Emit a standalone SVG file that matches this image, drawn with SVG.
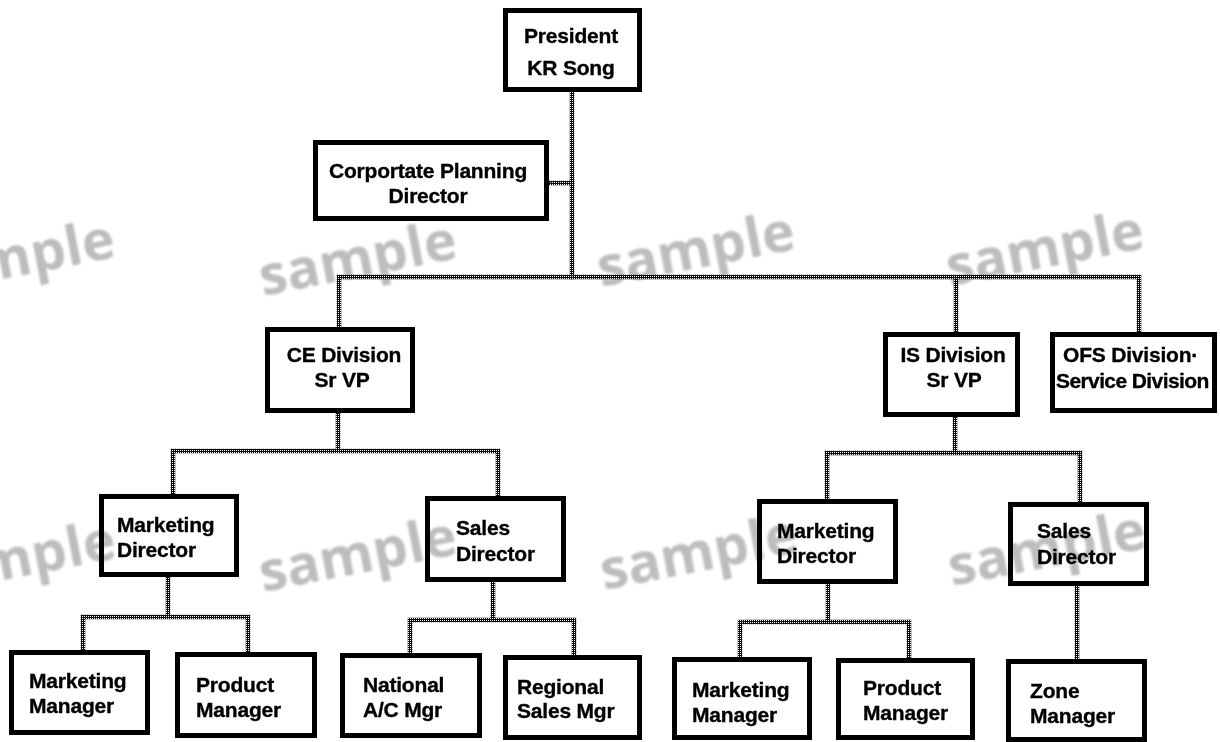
<svg xmlns="http://www.w3.org/2000/svg" xmlns:xlink="http://www.w3.org/1999/xlink" width="1220" height="742" viewBox="0 0 1220 742">
<style>
.box{fill:none;stroke:#000;stroke-width:5}
.t{font-family:"Liberation Sans",Arial,sans-serif;font-weight:bold;font-size:21px;fill:#000;stroke:#000;stroke-width:0.35;letter-spacing:-0.2px}
.c{text-anchor:middle}
.w{fill:none;stroke:url(#chk);stroke-width:4.5;stroke-linecap:square}
.wm{font-family:"Open Sans","DejaVu Sans",sans-serif;font-weight:bold;font-size:55px;fill:#bdbdbd}
</style>
<defs>
<pattern id="chk" width="2" height="2" patternUnits="userSpaceOnUse">
<rect width="2" height="2" fill="#0a0a0a"/>
<rect width="1" height="1" fill="#fff"/>
</pattern>
<filter id="soft" x="-10%" y="-30%" width="120%" height="160%"><feGaussianBlur stdDeviation="0.9"/></filter>
</defs>
<rect width="1220" height="742" fill="#fff"/>
<g id="watermarks" filter="url(#soft)">
<text class="wm" x="-79" y="295" textLength="200" lengthAdjust="spacingAndGlyphs" transform="rotate(-11 -79 295)">sample</text>
<text class="wm" x="263" y="296" textLength="200" lengthAdjust="spacingAndGlyphs" transform="rotate(-11 263 296)">sample</text>
<text class="wm" x="601" y="287" textLength="200" lengthAdjust="spacingAndGlyphs" transform="rotate(-11 601 287)">sample</text>
<text class="wm" x="950" y="286" textLength="200" lengthAdjust="spacingAndGlyphs" transform="rotate(-11 950 286)">sample</text>
<text class="wm" x="-78" y="596" textLength="200" lengthAdjust="spacingAndGlyphs" transform="rotate(-11 -78 596)">sample</text>
<text class="wm" x="263" y="592" textLength="200" lengthAdjust="spacingAndGlyphs" transform="rotate(-11 263 592)">sample</text>
<text class="wm" x="604" y="590" textLength="200" lengthAdjust="spacingAndGlyphs" transform="rotate(-11 604 590)">sample</text>
<text class="wm" x="952" y="586" textLength="200" lengthAdjust="spacingAndGlyphs" transform="rotate(-11 952 586)">sample</text>
</g>
<g id="connectors">
<path class="w" d="M572 92V277"/>
<path class="w" d="M549 183H572"/>
<path class="w" d="M339 327V277H1139V332M956 277V332"/>
<path class="w" d="M338 413V451M173 494V451H498V496"/>
<path class="w" d="M168 577V617M83 650V617H248V652"/>
<path class="w" d="M493 582V620M410 653V620H574V655"/>
<path class="w" d="M955 417V453M827 499V453H1080V502"/>
<path class="w" d="M828 584V622M740 657V622H909V658"/>
<path class="w" d="M1077 586V659"/>
</g>
<g id="president"><rect class="box" x="505.5" y="10.5" width="134" height="79"/><text class="t c" x="571" y="43">President</text><text class="t c" x="571" y="75">KR Song</text></g>
<g id="corp-planning"><rect class="box" x="315.5" y="142.5" width="231" height="76"/><text class="t c" x="428" y="178">Corportate Planning</text><text class="t c" x="428" y="203">Director</text></g>
<g id="ce-division"><rect class="box" x="267.5" y="329.5" width="145" height="81"/><text class="t c" x="344" y="362">CE Division</text><text class="t c" x="342" y="387">Sr VP</text></g>
<g id="is-division"><rect class="box" x="885.5" y="334.5" width="132" height="80"/><text class="t c" x="953" y="362">IS Division</text><text class="t c" x="954" y="387">Sr VP</text></g>
<g id="ofs-division"><rect class="box" x="1052.5" y="334.5" width="162" height="76"/><text class="t" x="1063" y="362">OFS Division·</text><text class="t" x="1056" y="388" style="letter-spacing:-0.6px">Service Division</text></g>
<g id="ce-marketing-director"><rect class="box" x="101.5" y="496.5" width="135" height="78"/><text class="t" x="117" y="532">Marketing</text><text class="t" x="117" y="557">Director</text></g>
<g id="ce-sales-director"><rect class="box" x="427.5" y="498.5" width="136" height="81"/><text class="t" x="456" y="535">Sales</text><text class="t" x="456" y="561">Director</text></g>
<g id="ce-marketing-manager"><rect class="box" x="11.5" y="652.5" width="136" height="80"/><text class="t" x="29" y="688">Marketing</text><text class="t" x="29" y="713">Manager</text></g>
<g id="ce-product-manager"><rect class="box" x="177.5" y="654.5" width="137" height="81"/><text class="t" x="196" y="692">Product</text><text class="t" x="196" y="717">Manager</text></g>
<g id="national-ac-mgr"><rect class="box" x="342.5" y="655.5" width="137" height="80"/><text class="t" x="363" y="692">National</text><text class="t" x="363" y="717">A/C Mgr</text></g>
<g id="regional-sales-mgr"><rect class="box" x="505.5" y="657.5" width="134" height="80"/><text class="t" x="517" y="694">Regional</text><text class="t" x="517" y="718">Sales Mgr</text></g>
<g id="is-marketing-director"><rect class="box" x="759.5" y="501.5" width="136" height="80"/><text class="t" x="777" y="538">Marketing</text><text class="t" x="777" y="563">Director</text></g>
<g id="is-sales-director"><rect class="box" x="1010.5" y="504.5" width="136" height="79"/><text class="t" x="1037" y="538">Sales</text><text class="t" x="1037" y="564">Director</text></g>
<g id="is-marketing-manager"><rect class="box" x="674.5" y="659.5" width="135" height="78"/><text class="t" x="692" y="697">Marketing</text><text class="t" x="692" y="722">Manager</text></g>
<g id="is-product-manager"><rect class="box" x="838.5" y="660.5" width="134" height="77"/><text class="t" x="863" y="695">Product</text><text class="t" x="863" y="720">Manager</text></g>
<g id="zone-manager"><rect class="box" x="1008.5" y="661.5" width="136" height="78"/><text class="t" x="1030" y="698">Zone</text><text class="t" x="1030" y="723">Manager</text></g>
</svg>
